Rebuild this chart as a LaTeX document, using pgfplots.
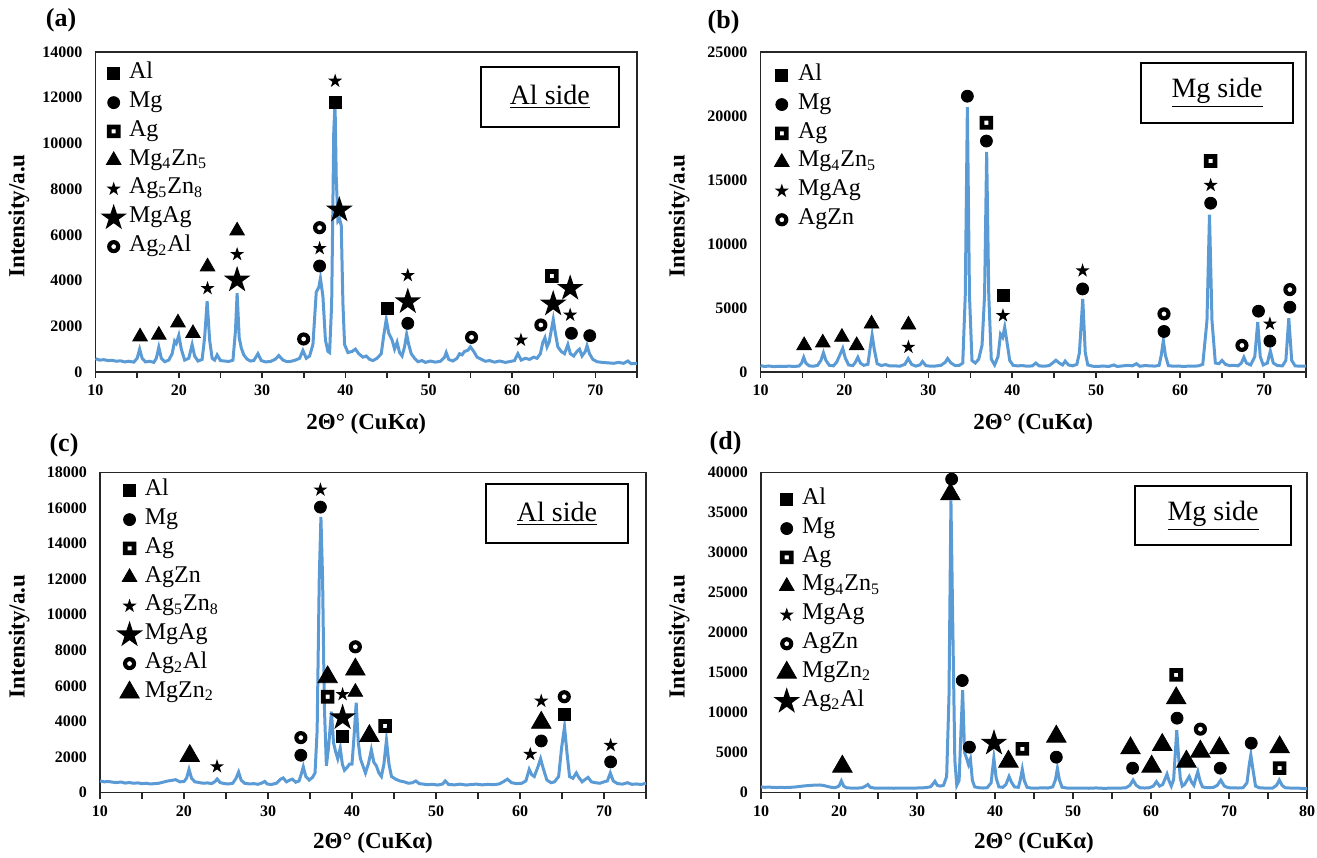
\documentclass[border=0pt]{standalone}
\usepackage{fontspec}
\setmainfont{Liberation Serif}
\usepackage{pgfplots}
\pgfplotsset{compat=1.18}

\definecolor{xrd}{RGB}{91,155,213}

% filled five-pointed star
\pgfdeclareplotmark{fstar}{%
  \pgfpathmoveto{\pgfpointpolar{90}{\pgfplotmarksize}}%
  \pgfpathlineto{\pgfpointpolar{126}{0.382\pgfplotmarksize}}%
  \pgfpathlineto{\pgfpointpolar{162}{\pgfplotmarksize}}%
  \pgfpathlineto{\pgfpointpolar{198}{0.382\pgfplotmarksize}}%
  \pgfpathlineto{\pgfpointpolar{234}{\pgfplotmarksize}}%
  \pgfpathlineto{\pgfpointpolar{270}{0.382\pgfplotmarksize}}%
  \pgfpathlineto{\pgfpointpolar{306}{\pgfplotmarksize}}%
  \pgfpathlineto{\pgfpointpolar{342}{0.382\pgfplotmarksize}}%
  \pgfpathlineto{\pgfpointpolar{18}{\pgfplotmarksize}}%
  \pgfpathlineto{\pgfpointpolar{54}{0.382\pgfplotmarksize}}%
  \pgfpathclose
  \pgfusepathqfill
}
% black square with a white hole
\pgfdeclareplotmark{sqhole}{%
  \begin{pgfscope}
  \pgfpathrectangle{\pgfpoint{-\pgfplotmarksize}{-\pgfplotmarksize}}{\pgfpoint{2\pgfplotmarksize}{2\pgfplotmarksize}}%
  \pgfpathrectangle{\pgfpoint{-0.3\pgfplotmarksize}{-0.3\pgfplotmarksize}}{\pgfpoint{0.6\pgfplotmarksize}{0.6\pgfplotmarksize}}%
  \pgfseteorule
  \pgfusepathqfill
  \end{pgfscope}
}
% thick ring
\pgfdeclareplotmark{ring}{%
  \begin{pgfscope}
  \pgfpathcircle{\pgfpointorigin}{\pgfplotmarksize}%
  \pgfpathcircle{\pgfpointorigin}{0.38\pgfplotmarksize}%
  \pgfseteorule
  \pgfusepathqfill
  \end{pgfscope}
}

\tikzset{sidebox/.style={draw=black, line width=1pt, font=\fontsize{14}{16}\selectfont, inner sep=0pt}}

\pgfplotsset{
  xrdaxis/.style={
    scale only axis, xmin=10, xmax=75, ymin=0, clip=false,
    axis line style={line width=0.9pt, black!85},
    tick pos=left, tick align=outside,
    xtick={10,20,...,80}, minor xtick={15,25,...,75},
    major tick length=3pt, minor tick length=3pt,
    every tick/.append style={black!85, line width=0.8pt},
    ytick style={draw=none},
    tick label style={font=\bfseries\fontsize{8}{9}\selectfont},
    /pgf/number format/assume math mode=true,
    /pgf/number format/1000 sep={},
    scaled y ticks=false,
    xlabel={2Θ° (CuKα)},
    ylabel={Intensity/a.u},
    label style={font=\bfseries\fontsize{11.5}{13}\selectfont},
    legend cell align=left,
    legend style={draw=none, fill=none, inner sep=0pt, row sep=0pt, anchor=north west,
      font=\fontsize{12}{14}\selectfont,
      nodes={text height=8.6pt, text depth=3.8pt, inner sep=1pt},
      /tikz/every even column/.append style={column sep=1pt}},
    legend image code/.code={\draw[mark repeat=2,mark phase=2,##1] plot coordinates {(-5pt,0pt) (0pt,0pt) (5pt,0pt)};},
  },
  curve/.style={xrd, line width=1.5pt, no marks, forget plot},
  sqA/.style={only marks, mark=square*, mark size=3pt, black},
  cirM/.style={only marks, mark=*, mark size=3pt, black},
  sqAg/.style={only marks, mark=sqhole, mark size=3.4pt, black},
  triS/.style={only marks, mark=triangle*, mark size=4.2pt, black},
  triB/.style={only marks, mark=triangle*, mark size=5.6pt, black},
  starS/.style={only marks, mark=fstar, mark size=3.7pt, black},
  starB/.style={only marks, mark=fstar, mark size=7pt, black},
  ringM/.style={only marks, mark=ring, mark size=3.3pt, black},
}

\begin{document}
\begin{tikzpicture}
\path[use as bounding box] (0,0) rectangle (658.5pt,428.5pt);

\node[font=\bfseries\fontsize{13}{15}\selectfont] at (30.5pt,418.5pt) {(a)};
\node[font=\bfseries\fontsize{13}{15}\selectfont] at (361.8pt,417.6pt) {(b)};
\node[font=\bfseries\fontsize{13}{15}\selectfont] at (32pt,206pt) {(c)};
\node[font=\bfseries\fontsize{13}{15}\selectfont] at (362.8pt,207pt) {(d)};

% ---------------- (a) Al side
\begin{axis}[xrdaxis, at={(47.75pt,242.5pt)}, anchor=south west,
  width=270.75pt, height=160pt, ymax=14000, ytick={0,2000,...,14000},
  ylabel style={at={(axis description cs:-0.1413,0.4875)}, anchor=center},
  xlabel style={at={(axis description cs:0.5,-0.1625)}, anchor=center},
  legend style={at={(rel axis cs:0.0083,0.978)}}]
\addplot[curve] coordinates {
(10,580) (10.5,520) (11,540) (11.5,500) (12,510) (12.5,470) (13,490) (13.5,440) (14,470) (14.6,430)
(15.0,600) (15.3,1000) (15.6,600) (16,440) (16.5,470) (17,420) (17.3,600) (17.6,1080) (17.9,600)
(18.3,450) (18.8,520) (19.2,800) (19.5,1350) (19.7,1250) (20.0,1600) (20.3,1000) (20.7,520) (21.2,600)
(21.6,1200) (21.9,700) (22.3,480) (22.8,550) (23.1,1500) (23.4,3100) (23.7,1400) (24.0,600) (24.3,520)
(24.6,750) (25.0,500) (25.5,480) (26.0,460) (26.5,520) (26.8,1800) (27.0,3450) (27.25,1500) (27.5,1050)
(27.8,750) (28.2,560) (28.6,480) (29.0,500) (29.5,800) (29.9,500) (30.4,440) (31,460) (31.6,560)
(32.0,720) (32.5,520) (33,450) (33.5,470) (34,520) (34.5,600) (34.9,940) (35.3,600) (35.7,700)
(36.1,1200) (36.5,3500) (36.8,3700) (37.0,4100) (37.3,3300) (37.6,1400) (37.9,900) (38.1,850)
(38.35,3000) (38.6,10500) (38.75,11800) (38.9,8500) (39.1,6600) (39.3,6700) (39.5,6400) (39.7,3000)
(39.9,1200) (40.3,850) (40.8,900) (41.2,1000) (41.6,800) (42.1,650) (42.5,700) (42.9,550) (43.3,500)
(43.8,600) (44.3,800) (44.6,1600) (44.9,2300) (45.2,1700) (45.6,1400) (45.9,1000) (46.2,1300)
(46.5,850) (46.8,700) (47.1,1100) (47.35,1650) (47.6,1200) (47.9,800) (48.3,600) (48.7,450) (49.2,500)
(49.6,420) (50.2,480) (50.8,430) (51.4,470) (51.9,650) (52.1,850) (52.4,550) (52.9,480) (53.4,600)
(53.7,800) (54.0,750) (54.3,900) (54.7,950) (55.0,1100) (55.4,900) (55.8,650) (56.3,560) (56.8,470)
(57.3,500) (57.9,430) (58.5,480) (59.2,420) (59.8,460) (60.3,500) (60.7,800) (61.1,520) (61.6,600)
(62.1,550) (62.6,650) (63.0,600) (63.4,800) (63.7,1300) (63.95,1500) (64.2,1100) (64.45,1300)
(64.7,1800) (64.95,2300) (65.2,1700) (65.5,1100) (65.9,900) (66.3,800) (66.7,1200) (67.0,800)
(67.4,700) (67.8,900) (68.1,1000) (68.4,700) (68.8,900) (69.0,1150) (69.3,800) (69.7,550) (70.2,450)
(70.8,420) (71.5,400) (72.2,380) (72.8,420) (73.4,380) (73.9,480) (74.3,360) (75,380)};
\addplot[sqA] coordinates {(44.99,2785) (38.77,11797)};
\addlegendentry{Al}
\addplot[cirM] coordinates {(36.9,4637) (47.49,2129) (67.13,1692) (69.33,1590)};
\addlegendentry{Mg}
\addplot[sqAg] coordinates {(64.78,4200)};
\addlegendentry{Ag}
\addplot[triS] coordinates {(15.35,1545) (17.6,1620) (19.9,2157) (21.7,1690) (23.45,4607) (27.0,6180)};
\addlegendentry{Mg\textsubscript{4}Zn\textsubscript{5}}
\addplot[starS] coordinates {(23.45,3660) (27.0,5148) (36.9,5410) (38.77,12731) (47.49,4229) (61.07,1400) (66.98,2494)};
\addlegendentry{Ag\textsubscript{5}Zn\textsubscript{8}}
\addplot[starB] coordinates {(27.0,4025) (39.27,7087) (47.49,3077) (64.94,2975) (66.98,3660)};
\addlegendentry{MgAg}
\addplot[ringM] coordinates {(34.99,1444) (36.9,6314) (55.14,1517) (63.46,2056)};
\addlegendentry{Ag\textsubscript{2}Al}
\node[sidebox, minimum width=69pt, minimum height=30pt] at (rel axis cs:0.839,0.859) {\underline{Al side}};
\end{axis}

% ---------------- (b) Mg side
\begin{axis}[xrdaxis, at={(380.25pt,242.5pt)}, anchor=south west,
  width=272.75pt, height=160pt, ymax=25000, ytick={0,5000,...,25000},
  ylabel style={at={(axis description cs:-0.1494,0.4875)}, anchor=center},
  xlabel style={at={(axis description cs:0.5,-0.1625)}, anchor=center},
  legend style={at={(rel axis cs:0.025,0.972)}}]
\addplot[curve] coordinates {
(10,500) (10.5,430) (11,470) (11.6,420) (12.2,450) (12.8,430) (13.4,460) (14,430) (14.6,470) (14.9,700)
(15.15,1150) (15.4,700) (15.8,480) (16.3,450) (16.8,520) (17.2,900) (17.5,1500) (17.8,900) (18.2,520)
(18.7,480) (19.1,800) (19.5,1400) (19.8,1850) (20.1,1100) (20.5,550) (21.0,500) (21.3,750) (21.6,1150)
(21.9,700) (22.3,520) (22.8,600) (23.05,1800) (23.3,2900) (23.55,1800) (23.9,650) (24.4,500) (24.9,580)
(25.4,470) (26.0,480) (26.6,450) (27.2,600) (27.6,1050) (28.0,600) (28.5,460) (29.0,550) (29.3,820)
(29.7,500) (30.3,450) (30.9,470) (31.5,520) (32.0,750) (32.3,1050) (32.7,700) (33.2,500) (33.7,520)
(34.1,700) (34.4,6000) (34.65,20700) (34.9,6000) (35.2,900) (35.6,700) (36.0,1000) (36.4,2100)
(36.7,6000) (36.95,17200) (37.2,6000) (37.5,1000) (37.9,550) (38.3,1200) (38.6,2950) (38.85,2700)
(39.1,3500) (39.4,2200) (39.7,900) (40.1,520) (40.6,480) (41.2,500) (41.8,450) (42.4,480) (42.8,700)
(43.2,480) (43.8,450) (44.4,500) (44.9,750) (45.2,920) (45.6,700) (46.0,550) (46.3,850) (46.7,550)
(47.2,480) (47.7,600) (48.0,1500) (48.4,5700) (48.7,1500) (49.0,550) (49.6,450) (50.2,430) (50.8,470)
(51.5,430) (52.1,550) (52.5,430) (53.2,480) (53.8,520) (54.3,480) (54.8,650) (55.2,450) (55.8,500)
(56.4,480) (57.0,460) (57.5,520) (57.75,1300) (58.0,2450) (58.25,1300) (58.6,500) (59.2,450) (59.8,470)
(60.4,430) (61.0,460) (61.6,450) (62.2,480) (62.7,600) (63.2,4000) (63.5,12300) (63.8,4000) (64.2,700)
(64.6,650) (65.0,900) (65.4,600) (65.9,500) (66.4,520) (66.9,480) (67.3,700) (67.6,1150) (67.9,700)
(68.4,550) (68.9,1200) (69.25,3900) (69.55,1200) (69.9,550) (70.4,700) (70.75,1650) (71.1,700)
(71.6,500) (72.2,480) (72.6,900) (72.95,4200) (73.3,900) (73.7,480) (74.3,450) (75,470)};
\addplot[sqA] coordinates {(38.89,5971)};
\addlegendentry{\hspace{3.5pt}Al}
\addplot[cirM] coordinates {(34.65,21547) (36.92,18042) (48.38,6490) (58.08,3167) (63.64,13188) (69.34,4751) (70.7,2414) (73.08,5062)};
\addlegendentry{\hspace{3.5pt}Mg}
\addplot[sqAg] coordinates {(36.92,19470) (63.64,16485)};
\addlegendentry{\hspace{3.5pt}Ag}
\addplot[triS] coordinates {(15.2,2077) (17.42,2285) (19.7,2726) (21.46,2077) (23.23,3764) (27.63,3686)};
\addlegendentry{\hspace{3.5pt}Mg\textsubscript{4}Zn\textsubscript{5}}
\addplot[starS] coordinates {(27.63,1947) (38.89,4413) (48.38,7918) (63.64,14590) (70.7,3764)};
\addlegendentry{\hspace{3.5pt}MgAg}
\addplot[ringM] coordinates {(58.08,4543) (67.37,2077) (73.08,6438)};
\addlegendentry{\hspace{3.5pt}AgZn}
\node[sidebox, minimum width=76pt, minimum height=30pt] at (rel axis cs:0.837,0.873) {\underline{Mg side}};
\end{axis}

% ---------------- (c) Al side
\begin{axis}[xrdaxis, at={(50pt,32.25pt)}, anchor=south west,
  width=273pt, height=160pt, ymax=18000, ytick={0,2000,...,18000},
  ylabel style={at={(axis description cs:-0.148,0.4875)}, anchor=center},
  xlabel style={at={(axis description cs:0.5,-0.158)}, anchor=center},
  legend style={at={(rel axis cs:0.029,0.989)}}]
\addplot[curve] coordinates {
(10,650) (10.5,600) (11,620) (11.5,580) (12,560) (12.5,590) (13,530) (13.5,560) (14,520) (14.5,540)
(15,500) (15.5,520) (16,480) (16.5,500) (17,520) (17.5,580) (18,640) (18.5,680) (19,720) (19.5,600)
(20,620) (20.3,800) (20.6,1300) (20.9,800) (21.3,600) (21.8,560) (22.3,520) (22.8,540) (23.3,500)
(23.7,620) (23.95,760) (24.3,560) (24.8,500) (25.3,480) (25.8,520) (26.2,800) (26.5,1150) (26.8,700)
(27.2,520) (27.8,480) (28.3,500) (28.8,460) (29.3,540) (29.6,620) (29.9,480) (30.4,450) (31,520)
(31.5,750) (31.8,820) (32.2,600) (32.6,700) (32.9,750) (33.3,580) (33.7,650) (34.0,1100) (34.2,1450)
(34.5,900) (34.9,700) (35.3,850) (35.6,1100) (35.85,3500) (36.1,12000) (36.3,15500) (36.5,12000)
(36.7,5000) (36.95,1500) (37.2,2500) (37.55,4550) (37.8,2800) (38.05,2300) (38.3,1900) (38.6,2500)
(38.85,1600) (39.1,1250) (39.4,1400) (39.7,1600) (40.0,1600) (40.25,3200) (40.5,5050) (40.75,2800)
(41.0,1900) (41.3,1500) (41.6,1100) (41.95,1600) (42.3,2400) (42.6,1700) (42.9,1500) (43.2,1100)
(43.5,900) (43.8,1600) (44.1,2950) (44.4,1600) (44.7,900) (45.2,750) (45.7,650) (46.2,600) (46.7,520)
(47.2,550) (47.6,650) (48.0,500) (48.5,470) (49,440) (49.6,460) (50.2,420) (50.8,480) (51.1,650)
(51.5,450) (52.2,430) (52.9,470) (53.6,420) (54.2,450) (54.8,470) (55.5,430) (56.2,460) (56.8,440)
(57.5,480) (58.0,600) (58.5,750) (59.0,550) (59.6,500) (60.2,520) (60.7,650) (61.1,1300) (61.4,1000)
(61.7,900) (62.1,1400) (62.45,1900) (62.8,1300) (63.2,700) (63.7,550) (64.1,600) (64.6,900)
(64.95,2500) (65.3,3700) (65.6,2200) (65.9,900) (66.3,800) (66.7,1100) (67.0,850) (67.4,600)
(67.8,750) (68.1,850) (68.5,600) (69.0,550) (69.5,520) (70.0,600) (70.4,650) (70.75,1100) (71.1,650)
(71.6,500) (72.2,470) (72.8,550) (73.3,460) (73.9,480) (74.4,450) (75,520)};
\addplot[sqA] coordinates {(38.88,3181) (65.27,4397)};
\addlegendentry{Al}
\addplot[cirM] coordinates {(33.91,2096) (36.24,16053) (62.53,2900) (70.79,1721)};
\addlegendentry{Mg}
\addplot[sqAg] coordinates {(37.1,5388) (43.94,3742)};
\addlegendentry{Ag}
\addplot[triS] coordinates {(40.4,5650)};
\addlegendentry{AgZn}
\addplot[starS] coordinates {(23.93,1459) (36.24,17026) (38.88,5519) (61.22,2152) (62.53,5145) (70.79,2657)};
\addlegendentry{Ag\textsubscript{5}Zn\textsubscript{8}}
\addplot[starB] coordinates {(38.88,4210)};
\addlegendentry{MgAg}
\addplot[ringM] coordinates {(33.91,3087) (40.4,8195) (65.27,5388)};
\addlegendentry{Ag\textsubscript{2}Al}
\addplot[triB] coordinates {(20.69,2058) (37.1,6492) (40.4,6923) (42.07,3181) (62.53,3929)};
\addlegendentry{MgZn\textsubscript{2}}
\node[sidebox, minimum width=71pt, minimum height=29.5pt] at (rel axis cs:0.837,0.872) {\underline{Al side}};
\end{axis}

% ---------------- (d) Mg side
\begin{axis}[xrdaxis, at={(380.5pt,32.25pt)}, anchor=south west,
  width=273pt, height=160pt, xmax=80, minor xtick={15,25,...,75}, ymax=40000, ytick={0,5000,...,40000},
  ylabel style={at={(axis description cs:-0.150,0.4875)}, anchor=center},
  xlabel style={at={(axis description cs:0.5,-0.158)}, anchor=center},
  legend style={at={(rel axis cs:0.022,0.961)}}]
\addplot[curve] coordinates {
(10,700) (10.5,650) (11,680) (11.5,640) (12,620) (12.5,650) (13,620) (13.5,640) (14,660) (14.5,700)
(15,760) (15.5,820) (16,860) (16.5,900) (17,920) (17.5,940) (18,880) (18.5,760) (19,650) (19.5,600)
(20.0,800) (20.3,1450) (20.6,800) (21.0,580) (21.5,560) (22,540) (22.5,560) (23,600) (23.4,800)
(23.7,1000) (24.0,650) (24.5,560) (25,540) (26,560) (27,530) (28,550) (29,540) (30,560) (31,600)
(31.7,700) (32.0,1000) (32.3,1400) (32.6,900) (33.0,800) (33.4,900) (33.8,2000) (34.1,12000)
(34.35,36500) (34.6,20000) (34.85,4000) (35.1,900) (35.4,1500) (35.65,8000) (35.85,12800) (36.1,5000)
(36.35,4300) (36.6,3500) (36.85,4200) (37.1,1500) (37.4,700) (37.9,600) (38.5,560) (39.0,600)
(39.5,1200) (39.85,4300) (40.15,1800) (40.5,700) (41.0,650) (41.4,1000) (41.8,2000) (42.1,1300)
(42.5,700) (43.0,650) (43.25,1600) (43.5,2900) (43.75,1500) (44.1,650) (44.6,560) (45.2,540) (46,580)
(46.8,560) (47.4,700) (47.75,1600) (48.0,3000) (48.25,1600) (48.6,650) (49.2,560) (50,540) (51,560)
(52,530) (53,570) (53.5,540) (54,520) (55,550) (56,540) (56.8,600) (57.3,900) (57.7,1550) (58.1,900)
(58.6,580) (59.2,560) (59.8,600) (60.3,800) (60.7,1350) (61.1,800) (61.5,1000) (61.8,1700)
(62.05,2300) (62.3,1500) (62.6,800) (62.9,1600) (63.15,5500) (63.3,7800) (63.5,5000) (63.75,1800)
(64.0,800) (64.3,1000) (64.6,1500) (64.9,2000) (65.2,1300) (65.5,900) (65.75,1800) (66.0,2600)
(66.3,1400) (66.6,700) (67.0,620) (67.5,600) (68.0,640) (68.5,900) (68.95,1550) (69.4,800) (69.9,600)
(70.5,580) (71.2,560) (71.8,600) (72.3,1200) (72.6,3500) (72.8,4700) (73.05,3000) (73.4,800)
(73.9,580) (74.5,560) (75,550) (75.6,560) (76.1,900) (76.45,1550) (76.8,900) (77.2,600) (77.8,560)
(78.5,540) (79.2,530) (80,480)};
\addlegendimage{sqA}
\addlegendentry{Al}
\addplot[cirM] coordinates {(34.44,39167) (35.8,14000) (36.72,5667) (47.86,4417) (57.64,3042) (63.34,9292) (68.88,3042) (72.85,6167)};
\addlegendentry{Mg}
\addplot[sqAg] coordinates {(43.51,5458) (63.23,14708) (76.49,3042)};
\addlegendentry{Ag}
\addlegendimage{triS}
\addlegendentry{Mg\textsubscript{4}Zn\textsubscript{5}}
\addlegendimage{starS}
\addlegendentry{MgAg}
\addplot[ringM] coordinates {(66.33,7917)};
\addlegendentry{AgZn}
\addplot[triB] coordinates {(20.43,3250) (34.28,37290) (41.72,3875) (47.86,7000) (57.37,5542) (60.08,3250) (61.44,5958) (63.23,11792) (64.54,3875) (66.33,5125) (68.77,5542) (76.49,5667)};
\addlegendentry{MgZn\textsubscript{2}}
\addplot[starB] coordinates {(39.87,6167)};
\addlegendentry{Ag\textsubscript{2}Al}
\node[sidebox, minimum width=78pt, minimum height=29.5pt] at (rel axis cs:0.828,0.866) {\underline{Mg side}};
\end{axis}
\end{tikzpicture}
\end{document}
